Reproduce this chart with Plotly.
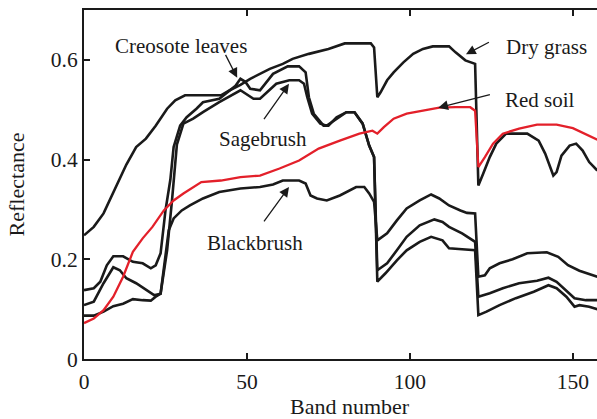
import plotly.graph_objects as go

# ---- data ----
dry_grass_band = [0, 3, 6, 8, 10, 13, 16, 19, 22, 25.5, 28, 31, 35, 42, 45, 48, 51, 54, 57, 61,
                  64, 69, 75, 80, 88, 89, 90, 91, 93, 95, 98, 101, 104, 107, 112, 114, 117, 120,
                  121, 122.5, 124.5, 126.5, 129.5, 136, 139.5, 141.5, 144, 145, 146.5, 149, 151,
                  153, 155, 157.5]
dry_grass = [0.248, 0.265, 0.292, 0.32, 0.348, 0.39, 0.425, 0.442, 0.468, 0.502, 0.519, 0.529,
             0.529, 0.529, 0.54, 0.55, 0.562, 0.572, 0.582, 0.592, 0.602, 0.612, 0.622, 0.633,
             0.633, 0.625, 0.525, 0.535, 0.559, 0.575, 0.595, 0.612, 0.622, 0.627, 0.627, 0.615,
             0.599, 0.592, 0.348, 0.372, 0.405, 0.432, 0.452, 0.452, 0.438, 0.412, 0.368, 0.375,
             0.408, 0.428, 0.432, 0.418, 0.395, 0.378]

red_soil_band = [0, 1, 3, 6, 9, 12, 15, 18, 21, 24.5, 27.5, 30.5, 33.5, 36, 42, 48, 54, 60, 66,
                 72, 78.5, 84.5, 88.5, 90, 92, 95, 99, 104, 109, 114, 118.5, 120, 121, 123, 125.5,
                 128.5, 133.5, 139, 145, 150, 154, 157.5]
red_soil = [0.072, 0.075, 0.081, 0.098, 0.125, 0.165, 0.215, 0.242, 0.265, 0.298, 0.318, 0.332,
            0.345, 0.355, 0.358, 0.365, 0.368, 0.382, 0.398, 0.422, 0.438, 0.452, 0.458, 0.452,
            0.465, 0.482, 0.492, 0.498, 0.504, 0.505, 0.505, 0.498, 0.385, 0.405, 0.432, 0.452,
            0.462, 0.47, 0.47, 0.463, 0.45, 0.44]

creosote_band = [0, 3, 5, 7, 9, 12, 15, 18, 20.5, 22, 23.5, 25, 26.5, 27.5, 29.5, 31.5, 34.5,
                 36.5, 41.5, 44, 46.5, 48, 49.5, 51, 54, 58, 62.5, 66, 68, 69, 70.5, 73.5, 75,
                 77.5, 80.5, 83, 85.5, 87.5, 89, 90, 93, 96, 99, 103, 107.5, 110, 112, 116, 120,
                 121, 124.5, 128.5, 133.5, 139, 142.5, 145, 148, 150.5, 154, 157.5]
creosote = [0.138, 0.142, 0.155, 0.188, 0.206, 0.206, 0.195, 0.192, 0.182, 0.188, 0.212, 0.298,
            0.36, 0.425, 0.468, 0.485, 0.502, 0.515, 0.522, 0.535, 0.548, 0.562, 0.556, 0.542,
            0.539, 0.572, 0.587, 0.587, 0.575, 0.525, 0.492, 0.468, 0.468, 0.485, 0.495, 0.495,
            0.472, 0.428, 0.405, 0.178, 0.192, 0.218, 0.245, 0.268, 0.28, 0.275, 0.265, 0.252,
            0.235, 0.125, 0.132, 0.142, 0.152, 0.157, 0.163, 0.155, 0.138, 0.122, 0.118, 0.118]

sagebrush_band = [0, 3, 6, 9, 11, 13, 16, 19, 21.5, 23.5, 25.5, 27, 28.5, 30.5, 33.5, 36.5, 41.5,
                  48, 50, 52, 54, 59, 63, 66, 67.5, 68.5, 70, 72.5, 74.5, 77.5, 80.5, 83, 85.5,
                  87.5, 89, 90, 92.5, 96, 99, 103, 106.5, 110, 112, 116, 120, 121, 123.5, 127.5,
                  132.5, 138, 142.5, 145, 148, 150.5, 152, 155, 157.5]
sagebrush = [0.108, 0.115, 0.152, 0.184, 0.178, 0.162, 0.152, 0.138, 0.128, 0.131, 0.218, 0.318,
             0.43, 0.472, 0.482, 0.495, 0.515, 0.539, 0.53, 0.522, 0.522, 0.552, 0.559, 0.559,
             0.552, 0.525, 0.492, 0.472, 0.468, 0.482, 0.495, 0.495, 0.472, 0.428, 0.405, 0.155,
             0.172, 0.198, 0.218, 0.235, 0.245, 0.238, 0.222, 0.22, 0.218, 0.088, 0.095, 0.108,
             0.122, 0.135, 0.148, 0.142, 0.125, 0.105, 0.108, 0.105, 0.1]

blackbrush_band = [0, 3, 6, 9, 12, 15, 18, 20.5, 22, 23.5, 26, 27.5, 30, 32.5, 36.5, 41.5, 48, 54,
                   58, 61, 66, 68, 69.5, 71.5, 74.5, 78.5, 83.5, 86, 87.5, 89, 90, 93, 96, 99, 103,
                   106.5, 109, 112, 115.5, 117.5, 120, 121, 123, 124.5, 127.5, 131.5, 136, 142,
                   145.5, 148.5, 152, 155.5, 157.5]
blackbrush = [0.087, 0.087, 0.095, 0.106, 0.111, 0.12, 0.118, 0.117, 0.125, 0.131, 0.258, 0.282,
              0.298, 0.308, 0.322, 0.335, 0.342, 0.345, 0.35, 0.358, 0.358, 0.352, 0.328, 0.322,
              0.318, 0.328, 0.345, 0.345, 0.332, 0.315, 0.238, 0.252, 0.278, 0.302, 0.318, 0.33,
              0.322, 0.308, 0.298, 0.293, 0.292, 0.165, 0.168, 0.182, 0.192, 0.2, 0.212, 0.214,
              0.205, 0.188, 0.177, 0.17, 0.165]

x_ticks = [0, 50, 100, 150]
y_ticks = [0, 0.2, 0.4, 0.6]
y_tick_text = ["0", "0.2", "0.4", "0.6"]

# label text, label position, arrow head, arrow tail (data coordinates)
labels = [
    ("Creosote leaves", 29.7, 0.627, "center", (47.0, 0.564), (43.2, 0.613)),
    ("Sagebrush", 55.0, 0.442, "center", (62.9, 0.552), (54.9, 0.478)),
    ("Blackbrush", 52.4, 0.232, "center", (62.9, 0.345), (54.9, 0.273)),
    ("Dry grass", 128.8, 0.625, "left", (117.2, 0.611), (124.7, 0.637)),
    ("Red soil", 128.6, 0.519, "left", (108.7, 0.504), (125.0, 0.531)),
]

FONT = "Liberation Serif, Times New Roman, serif"
BLACK = "#1a1a1a"
RED = "#e3202a"

fig = go.Figure()
for name, xb, yv in [("Dry grass", dry_grass_band, dry_grass),
                     ("Creosote leaves", creosote_band, creosote),
                     ("Sagebrush", sagebrush_band, sagebrush),
                     ("Blackbrush", blackbrush_band, blackbrush)]:
    fig.add_trace(go.Scatter(x=xb, y=yv, mode="lines", name=name,
                             line=dict(color=BLACK, width=2.6), showlegend=False))
fig.add_trace(go.Scatter(x=red_soil_band, y=red_soil, mode="lines", name="Red soil",
                         line=dict(color=RED, width=2.3), showlegend=False))

annotations = []
for text, tx, ty, anchor, head, tail in labels:
    annotations.append(dict(x=tx, y=ty, xref="x", yref="y", text=text, showarrow=False,
                            xanchor=anchor, yanchor="middle",
                            font=dict(family=FONT, size=21, color=BLACK)))
    annotations.append(dict(x=head[0], y=head[1], ax=tail[0], ay=tail[1], xref="x", yref="y",
                            axref="x", ayref="y", text="", showarrow=True, arrowhead=2,
                            arrowsize=1.5, arrowwidth=1.3, arrowcolor=BLACK, standoff=0))

# x-axis title, centred where the reference places it
annotations.append(dict(x=0.5185, y=0, xref="paper", yref="paper", yshift=-33,
                        text="Band number", showarrow=False, xanchor="center", yanchor="top",
                        font=dict(family=FONT, size=22, color=BLACK)))

fig.update_layout(
    width=597, height=419,
    margin=dict(l=84, r=0, t=10, b=60),
    paper_bgcolor="white", plot_bgcolor="white",
    font=dict(family=FONT, size=21, color=BLACK),
    xaxis=dict(range=[0, 157.4], tickvals=x_ticks, ticks="inside", ticklen=6, tickwidth=1.5,
               tickcolor=BLACK, showline=True, linecolor=BLACK, linewidth=2, mirror="ticks",
               showgrid=False, zeroline=False, ticklabelstandoff=2,
               tickfont=dict(family=FONT, size=21.5)),
    yaxis=dict(range=[0, 0.7], tickvals=y_ticks, ticktext=y_tick_text, ticks="inside", ticklen=6,
               tickwidth=1.5, tickcolor=BLACK, showline=True, linecolor=BLACK, linewidth=2,
               showgrid=False, zeroline=False,
               title=dict(text="Reflectance", font=dict(family=FONT, size=22), standoff=20),
               tickfont=dict(family=FONT, size=21.5)),
    yaxis2=dict(range=[0, 0.7], tickvals=y_ticks, ticks="inside", ticklen=6, tickwidth=1.5,
                tickcolor=BLACK, overlaying="y", side="right", anchor="x", showticklabels=False,
                showline=False, showgrid=False, zeroline=False),
    annotations=annotations,
)

fig.write_html("out.html")
